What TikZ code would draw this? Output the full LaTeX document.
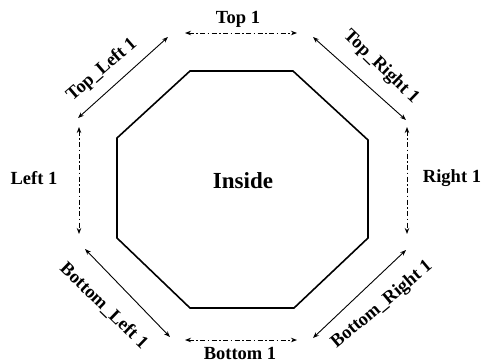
\documentclass[tikz,border=0pt]{standalone}
\usepackage{fontspec}
\setmainfont{Liberation Serif}
\usetikzlibrary{arrows.meta}
\tikzset{
  lbl/.style={font=\fontsize{18.5}{20}\selectfont\bfseries, inner sep=0pt},
  solidarr/.style={line width=0.9pt, {Stealth[length=6pt,width=4.5pt]}-{Stealth[length=6pt,width=4.5pt]}},
  dasharr/.style={line width=0.9pt, dash pattern=on 5pt off 2.5pt on 1.5pt off 2.5pt, {Stealth[length=6pt,width=4.5pt]}-{Stealth[length=6pt,width=4.5pt]}},
  octo/.style={line width=1.6pt, line join=miter}
}
\begin{document}
\begin{tikzpicture}[x=1pt,y=-1pt]
\useasboundingbox (0,0) rectangle (486,362);
% octagon
\coordinate (o1) at (190,71);
\coordinate (o2) at (293,71);
\coordinate (o3) at (368,140);
\coordinate (o4) at (368,238);
\coordinate (o5) at (294,308);
\coordinate (o6) at (190,308);
\coordinate (o7) at (117,238);
\coordinate (o8) at (117,138);
\draw[octo] (o1) -- (o2) -- (o3) -- (o4) -- (o5) -- (o6) -- (o7) -- (o8) -- cycle;
\node[lbl, font=\fontsize{23}{25}\selectfont\bfseries] (inside) at (243,181) {Inside};
% arrow endpoints
\coordinate (ta) at (185,33);  \coordinate (tb) at (297,33);
\coordinate (tra) at (313,37); \coordinate (trb) at (406,120);
\coordinate (ra) at (407,127); \coordinate (rb) at (407,234);
\coordinate (bra) at (406,250); \coordinate (brb) at (313,338);
\coordinate (ba) at (185,340); \coordinate (bb) at (297,340);
\coordinate (bla) at (85,249); \coordinate (blb) at (170,337);
\coordinate (la) at (79,127); \coordinate (lb) at (79,234);
\coordinate (tla) at (78,118); \coordinate (tlb) at (168,37);
\draw[dasharr] (ta) -- (tb);
\draw[solidarr] (tra) -- (trb);
\draw[dasharr] (ra) -- (rb);
\draw[solidarr] (bra) -- (brb);
\draw[dasharr] (ba) -- (bb);
\draw[solidarr] (bla) -- (blb);
\draw[dasharr] (la) -- (lb);
\draw[solidarr] (tla) -- (tlb);
% labels
\node[lbl] (top) at (238,19) {Top 1};
\node[lbl] (right) at (452,178) {Right 1};
\node[lbl] (left) at (34,178) {Left 1};
\node[lbl] (bottom) at (240,353) {Bottom 1};
\node[lbl, rotate=41] (tl) at (102,70) {Top\_Left 1};
\node[lbl, rotate=-44] (tr) at (381,67) {Top\_Right 1};
\node[lbl, rotate=-44] (bl) at (104,306) {Bottom\_Left 1};
\node[lbl, rotate=40] (br) at (382,305) {Bottom\_Right 1};
\end{tikzpicture}
\end{document}
